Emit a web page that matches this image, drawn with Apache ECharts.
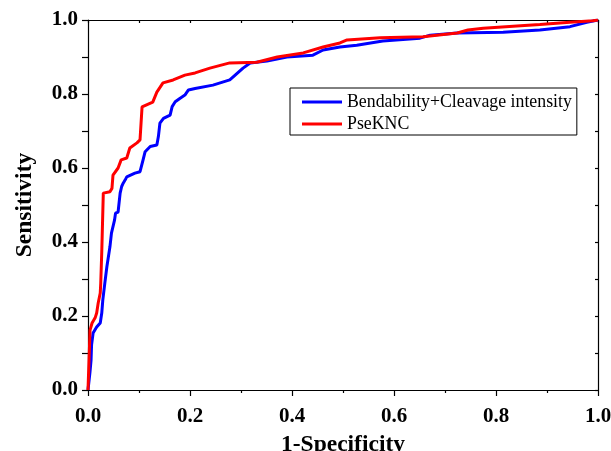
<!DOCTYPE html>
<html>
<head>
<meta charset="utf-8">
<script src="https://cdn.jsdelivr.net/npm/echarts@6/dist/echarts.min.js"></script>
<style>html,body{margin:0;padding:0;background:#fff}#c{width:611px;height:451px}</style>
</head>
<body>
<div id="c"></div>
<script>
var seriesNames = ['Bendability+Cleavage intensity', 'PseKNC'];
var blueFpr = [0,0.004,0.006,0.007,0.010,0.017,0.024,0.027,0.029,0.033,0.037,0.043,0.046,0.052,0.054,0.059,0.063,0.066,0.069,0.073,0.076,0.092,0.102,0.108,0.112,0.122,0.135,0.138,0.141,0.148,0.161,0.165,0.171,0.180,0.190,0.197,0.210,0.245,0.278,0.304,0.318,0.351,0.390,0.441,0.461,0.494,0.527,0.578,0.651,0.671,0.724,0.814,0.886,0.945,0.978,1.0];
var blueTpr = [0,0.05,0.081,0.122,0.154,0.170,0.181,0.208,0.243,0.289,0.333,0.387,0.424,0.459,0.478,0.481,0.532,0.55,0.559,0.568,0.576,0.586,0.590,0.622,0.644,0.658,0.662,0.685,0.721,0.734,0.743,0.766,0.779,0.788,0.797,0.811,0.815,0.824,0.838,0.870,0.884,0.889,0.900,0.905,0.919,0.927,0.932,0.943,0.951,0.959,0.965,0.967,0.973,0.982,0.994,1.0];
var redFpr = [0,0.004,0.008,0.014,0.017,0.020,0.024,0.025,0.027,0.030,0.043,0.047,0.049,0.059,0.065,0.076,0.082,0.096,0.102,0.106,0.127,0.135,0.147,0.167,0.190,0.210,0.239,0.278,0.331,0.371,0.422,0.461,0.494,0.508,0.573,0.657,0.724,0.745,0.775,0.841,0.886,0.945,0.990,1.0];
var redTpr = [0,0.162,0.181,0.195,0.208,0.235,0.262,0.289,0.374,0.532,0.536,0.545,0.581,0.600,0.622,0.627,0.654,0.668,0.676,0.765,0.778,0.805,0.830,0.838,0.851,0.857,0.870,0.884,0.886,0.900,0.911,0.927,0.938,0.946,0.952,0.955,0.965,0.973,0.978,0.984,0.988,0.994,0.998,1.0];
var xTitle = '1-Specificity';
var yTitle = 'Sensitivity';

function zip(a, b) { return a.map(function (v, i) { return [v, b[i]]; }); }

var FONT = '"Liberation Serif","Times New Roman",serif';
var chart = echarts.init(document.getElementById('c'), null, {renderer: 'canvas'});
var lineStyleAxis = {color: '#000', width: 1.2};
chart.setOption({
  animation: false,
  backgroundColor: '#fff',
  grid: {left: 88, right: 13, top: 20, bottom: 61, containLabel: false, outerBoundsMode: 'none'},
  legend: {
    orient: 'vertical', left: 290, top: 88,
    padding: [5, 5, 2, 12],
    itemGap: 4,
    itemWidth: 40, itemHeight: 3,
    borderColor: '#000', borderWidth: 1,
    icon: 'rect',
    textStyle: {fontFamily: FONT, fontSize: 17.8, color: '#000'},
    data: seriesNames
  },
  xAxis: [{
    type: 'value', min: 0, max: 1, interval: 0.2, position: 'bottom',
    name: xTitle, nameLocation: 'middle', nameGap: 43, nameMoveOverlap: false,
    nameTextStyle: {fontFamily: FONT, fontSize: 23.5, fontWeight: 'bold', color: '#000'},
    axisLine: {show: true, onZero: false, lineStyle: lineStyleAxis},
    axisTick: {show: true, inside: false, length: 6, lineStyle: lineStyleAxis},
    minorTick: {show: true, splitNumber: 2, length: 3, lineStyle: lineStyleAxis},
    splitLine: {show: false},
    axisLabel: {fontFamily: FONT, fontSize: 21, fontWeight: 'bold', color: '#000', margin: 16,
      formatter: function (v) { return v.toFixed(1); }}
  }, {
    type: 'value', min: 0, max: 1, interval: 0.1, position: 'top',
    axisLine: {show: true, onZero: false, lineStyle: lineStyleAxis},
    axisTick: {show: true, inside: true, length: 3, lineStyle: lineStyleAxis},
    axisLabel: {show: false}, splitLine: {show: false}
  }],
  yAxis: [{
    type: 'value', min: 0, max: 1, interval: 0.2, position: 'left',
    name: yTitle, nameLocation: 'middle', nameGap: 51, nameMoveOverlap: false,
    nameTextStyle: {fontFamily: FONT, fontSize: 23.5, fontWeight: 'bold', color: '#000'},
    axisLine: {show: true, onZero: false, lineStyle: lineStyleAxis},
    axisTick: {show: true, inside: false, length: 6, lineStyle: lineStyleAxis},
    minorTick: {show: true, splitNumber: 2, length: 6, lineStyle: lineStyleAxis},
    splitLine: {show: false},
    axisLabel: {fontFamily: FONT, fontSize: 21, fontWeight: 'bold', color: '#000', margin: 10,
      formatter: function (v) { return v.toFixed(1); }}
  }, {
    type: 'value', min: 0, max: 1, interval: 0.1, position: 'right',
    axisLine: {show: true, onZero: false, lineStyle: lineStyleAxis},
    axisTick: {show: true, inside: true, length: 3, lineStyle: lineStyleAxis},
    axisLabel: {show: false}, splitLine: {show: false}
  }],
  series: [{
    name: seriesNames[0], type: 'line', xAxisIndex: 0, yAxisIndex: 0,
    data: zip(blueFpr, blueTpr), showSymbol: false, symbol: 'none',
    lineStyle: {color: '#0000ff', width: 3}, itemStyle: {color: '#0000ff'}
  }, {
    name: seriesNames[1], type: 'line', xAxisIndex: 0, yAxisIndex: 0,
    data: zip(redFpr, redTpr), showSymbol: false, symbol: 'none',
    lineStyle: {color: '#ff0000', width: 3}, itemStyle: {color: '#ff0000'}
  }]
});
</script>
</body>
</html>
